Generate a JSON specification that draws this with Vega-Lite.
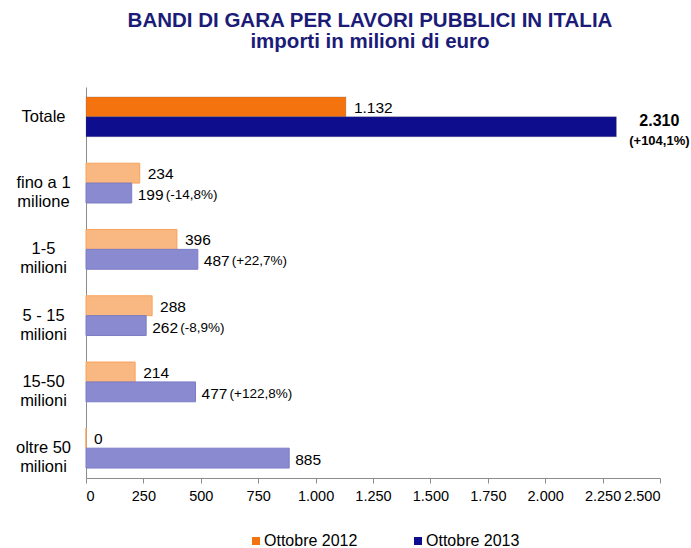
{
  "$schema": "https://vega.github.io/schema/vega-lite/v6.json",
  "width": 574,
  "height": 391,
  "autosize": {"type": "none"},
  "padding": {"left": 86, "top": 87, "right": 31, "bottom": 70},
  "config": {
    "view": {"stroke": null},
    "font": "Liberation Sans",
    "locale": {"number": {"decimal": ",", "thousands": ".", "grouping": [3], "currency": ["€", ""]}}
  },
  "title": {
    "text": ["BANDI DI GARA PER LAVORI PUBBLICI IN ITALIA", "importi in milioni di euro"],
    "fontSize": 20.5,
    "fontWeight": "bold",
    "color": "#1B1B78",
    "anchor": "middle",
    "lineHeight": 21,
    "offset": 35,
    "dx": -3,
    "font": "Liberation Sans"
  },
  "data": {
    "values": [
      {"cat": "Totale", "serie": "Ottobre 2012", "value": 1132, "pct": ""},
      {"cat": "Totale", "serie": "Ottobre 2013", "value": 2310, "pct": "(+104,1%)"},
      {"cat": "fino a 1|milione", "serie": "Ottobre 2012", "value": 234, "pct": ""},
      {"cat": "fino a 1|milione", "serie": "Ottobre 2013", "value": 199, "pct": "(-14,8%)"},
      {"cat": "1-5|milioni", "serie": "Ottobre 2012", "value": 396, "pct": ""},
      {"cat": "1-5|milioni", "serie": "Ottobre 2013", "value": 487, "pct": "(+22,7%)"},
      {"cat": "5 - 15|milioni", "serie": "Ottobre 2012", "value": 288, "pct": ""},
      {"cat": "5 - 15|milioni", "serie": "Ottobre 2013", "value": 262, "pct": "(-8,9%)"},
      {"cat": "15-50|milioni", "serie": "Ottobre 2012", "value": 214, "pct": ""},
      {"cat": "15-50|milioni", "serie": "Ottobre 2013", "value": 477, "pct": "(+122,8%)"},
      {"cat": "oltre 50|milioni", "serie": "Ottobre 2012", "value": 0, "pct": ""},
      {"cat": "oltre 50|milioni", "serie": "Ottobre 2013", "value": 885, "pct": ""}
    ]
  },
  "encoding": {
    "y": {
      "field": "cat",
      "type": "nominal",
      "sort": ["Totale", "fino a 1|milione", "1-5|milioni", "5 - 15|milioni", "15-50|milioni", "oltre 50|milioni"],
      "scale": {"paddingInner": 0.4, "paddingOuter": 0.15},
      "axis": {
        "title": null,
        "labelExpr": "split(datum.label, '|')",
        "labelAlign": "center",
        "labelPadding": 43,
        "ticks": false,
        "tickSize": 0,
        "domainColor": "#8C8C8C",
        "labelFontSize": 16.5,
        "labelColor": "#000000",
        "labelLineHeight": 19,
        "labelFont": "Liberation Sans"
      }
    },
    "yOffset": {
      "field": "serie",
      "type": "nominal",
      "sort": ["Ottobre 2012", "Ottobre 2013"],
      "scale": {"paddingInner": 0, "paddingOuter": 0}
    },
    "x": {
      "field": "value",
      "type": "quantitative",
      "scale": {"domain": [0, 2500], "nice": false},
      "axis": {
        "title": null,
        "values": [0, 250, 500, 750, 1000, 1250, 1500, 1750, 2000, 2250, 2500],
        "format": ",d",
        "grid": false,
        "domainColor": "#8C8C8C",
        "tickColor": "#8C8C8C",
        "tickSize": 5,
        "labelPadding": 6,
        "labelFontSize": 14.5,
        "labelColor": "#000000",
        "labelFont": "Liberation Sans"
      }
    }
  },
  "layer": [
    {
      "transform": [{"filter": "datum.cat == 'Totale'"}],
      "mark": {"type": "bar", "stroke": "#5A5A5A", "strokeOpacity": 0.25, "strokeWidth": 1},
      "encoding": {
        "color": {
          "field": "serie",
          "type": "nominal",
          "scale": {"domain": ["Ottobre 2012", "Ottobre 2013"], "range": ["#F5730F", "#0D0D8E"]},
          "legend": {
            "title": null,
            "orient": "none",
            "direction": "horizontal",
            "legendX": 162,
            "legendY": 446,
            "symbolType": "square",
            "symbolSize": 64,
            "symbolStrokeWidth": 0,
            "labelFontSize": 16,
            "labelColor": "#000000",
            "labelOffset": 0,
            "columnPadding": 52,
            "padding": 0,
            "labelFont": "Liberation Sans"
          }
        }
      }
    },
    {
      "transform": [{"filter": "datum.cat != 'Totale'"}],
      "mark": {"type": "bar", "strokeWidth": 1},
      "encoding": {
        "fill": {
          "field": "serie",
          "type": "nominal",
          "scale": {"domain": ["Ottobre 2012", "Ottobre 2013"], "range": ["#F9B781", "#8A8AD0"]},
          "legend": null
        },
        "stroke": {
          "field": "serie",
          "type": "nominal",
          "scale": {"domain": ["Ottobre 2012", "Ottobre 2013"], "range": ["#F8A35C", "#7C7CC6"]},
          "legend": null
        }
      }
    },
    {
      "transform": [{"filter": "datum.serie == 'Ottobre 2012'"}],
      "mark": {"type": "text", "align": "left", "dx": 8, "dy": 1, "fontSize": 15.5, "color": "#000000"},
      "encoding": {"text": {"field": "value", "type": "quantitative", "format": ",d"}}
    },
    {
      "transform": [{"filter": "datum.serie == 'Ottobre 2013' && datum.cat != 'Totale'"}],
      "mark": {"type": "text", "align": "left", "dx": 6, "dy": 2, "fontSize": 15.5, "color": "#000000"},
      "encoding": {"text": {"field": "value", "type": "quantitative", "format": ",d"}}
    },
    {
      "transform": [{"filter": "datum.serie == 'Ottobre 2013' && datum.cat != 'Totale'"}],
      "mark": {"type": "text", "align": "left", "dx": 34, "dy": 2, "fontSize": 13.5, "color": "#000000"},
      "encoding": {"text": {"field": "pct", "type": "nominal"}}
    },
    {
      "transform": [{"filter": "datum.serie == 'Ottobre 2013' && datum.cat == 'Totale'"}],
      "mark": {"type": "text", "align": "center", "dx": 43, "dy": -6, "fontSize": 16, "fontWeight": "bold", "color": "#000000"},
      "encoding": {"text": {"field": "value", "type": "quantitative", "format": ",d"}}
    },
    {
      "transform": [{"filter": "datum.serie == 'Ottobre 2013' && datum.cat == 'Totale'"}],
      "mark": {"type": "text", "align": "center", "dx": 43, "dy": 14, "fontSize": 13, "fontWeight": "bold", "color": "#000000"},
      "encoding": {"text": {"field": "pct", "type": "nominal"}}
    }
  ]
}
